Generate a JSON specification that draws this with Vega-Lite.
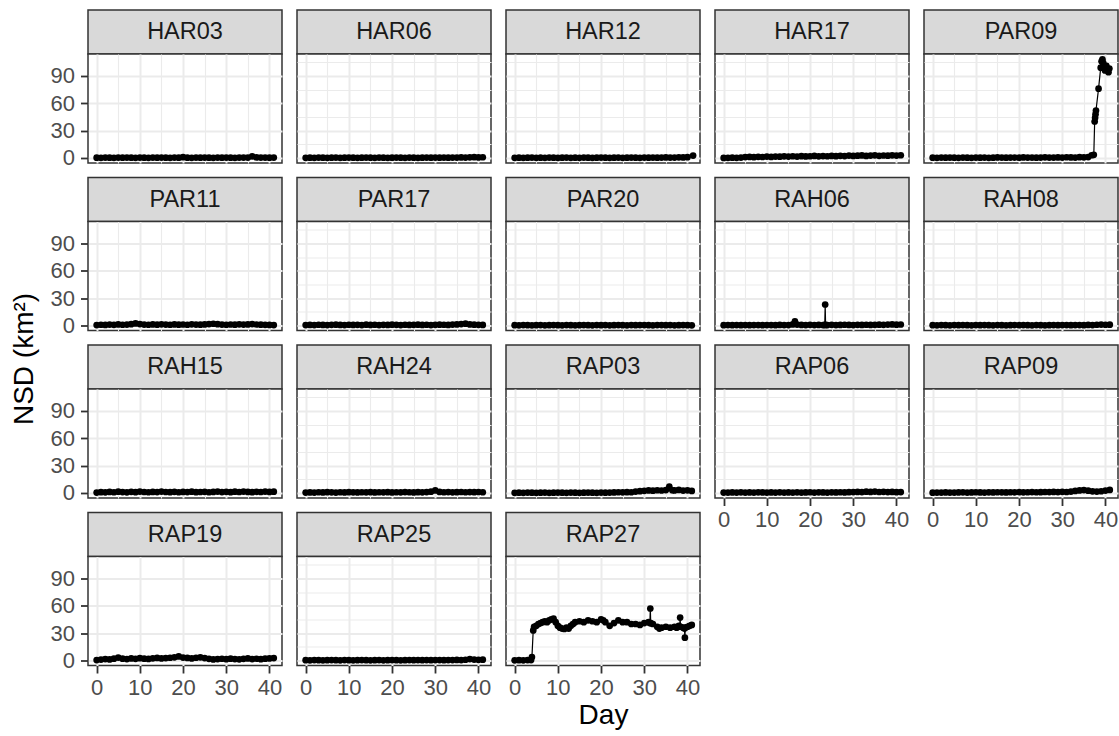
{
"$schema":"https://vega.github.io/schema/vega-lite/v6.json",
"padding":{"left":0,"top":9,"right":0,"bottom":0},
"background":"white",
"datasets":{
"HAR03":[{"day":0,"nsd":0.3},{"day":1,"nsd":0.2},{"day":2,"nsd":0.4},{"day":3,"nsd":0.3},{"day":4,"nsd":0.2},{"day":5,"nsd":0.4},{"day":6,"nsd":0.3},{"day":7,"nsd":0.5},{"day":8,"nsd":0.3},{"day":9,"nsd":0.2},{"day":10,"nsd":0.4},{"day":11,"nsd":0.3},{"day":12,"nsd":0.2},{"day":13,"nsd":0.4},{"day":14,"nsd":0.3},{"day":15,"nsd":0.5},{"day":16,"nsd":0.3},{"day":17,"nsd":0.2},{"day":18,"nsd":0.4},{"day":19,"nsd":0.3},{"day":20,"nsd":0.9},{"day":21,"nsd":0.3},{"day":22,"nsd":0.2},{"day":23,"nsd":0.4},{"day":24,"nsd":0.3},{"day":25,"nsd":0.5},{"day":26,"nsd":0.3},{"day":27,"nsd":0.2},{"day":28,"nsd":0.4},{"day":29,"nsd":0.3},{"day":30,"nsd":0.5},{"day":31,"nsd":0.3},{"day":32,"nsd":0.2},{"day":33,"nsd":0.4},{"day":34,"nsd":0.5},{"day":35,"nsd":0.4},{"day":36,"nsd":1.8},{"day":37,"nsd":0.6},{"day":38,"nsd":0.4},{"day":39,"nsd":0.5},{"day":40,"nsd":0.3},{"day":41,"nsd":0.4}],
"HAR06":[{"day":0,"nsd":0.2},{"day":1,"nsd":0.3},{"day":2,"nsd":0.2},{"day":3,"nsd":0.4},{"day":4,"nsd":0.3},{"day":5,"nsd":0.2},{"day":6,"nsd":0.3},{"day":7,"nsd":0.4},{"day":8,"nsd":0.2},{"day":9,"nsd":0.3},{"day":10,"nsd":0.5},{"day":11,"nsd":0.3},{"day":12,"nsd":0.2},{"day":13,"nsd":0.3},{"day":14,"nsd":0.4},{"day":15,"nsd":0.3},{"day":16,"nsd":0.2},{"day":17,"nsd":0.4},{"day":18,"nsd":0.3},{"day":19,"nsd":0.2},{"day":20,"nsd":0.3},{"day":21,"nsd":0.5},{"day":22,"nsd":0.3},{"day":23,"nsd":0.2},{"day":24,"nsd":0.4},{"day":25,"nsd":0.3},{"day":26,"nsd":0.2},{"day":27,"nsd":0.3},{"day":28,"nsd":0.4},{"day":29,"nsd":0.3},{"day":30,"nsd":0.5},{"day":31,"nsd":0.3},{"day":32,"nsd":0.4},{"day":33,"nsd":0.3},{"day":34,"nsd":0.5},{"day":35,"nsd":0.4},{"day":36,"nsd":0.6},{"day":37,"nsd":0.5},{"day":38,"nsd":0.7},{"day":39,"nsd":0.9},{"day":40,"nsd":0.6},{"day":41,"nsd":0.8}],
"HAR12":[{"day":0,"nsd":0.2},{"day":1,"nsd":0.3},{"day":2,"nsd":0.2},{"day":3,"nsd":0.3},{"day":4,"nsd":0.4},{"day":5,"nsd":0.2},{"day":6,"nsd":0.3},{"day":7,"nsd":0.2},{"day":8,"nsd":0.4},{"day":9,"nsd":0.3},{"day":10,"nsd":0.2},{"day":11,"nsd":0.3},{"day":12,"nsd":0.4},{"day":13,"nsd":0.2},{"day":14,"nsd":0.3},{"day":15,"nsd":0.2},{"day":16,"nsd":0.4},{"day":17,"nsd":0.3},{"day":18,"nsd":0.2},{"day":19,"nsd":0.3},{"day":20,"nsd":0.5},{"day":21,"nsd":0.3},{"day":22,"nsd":0.2},{"day":23,"nsd":0.3},{"day":24,"nsd":0.4},{"day":25,"nsd":0.2},{"day":26,"nsd":0.3},{"day":27,"nsd":0.4},{"day":28,"nsd":0.3},{"day":29,"nsd":0.2},{"day":30,"nsd":0.4},{"day":31,"nsd":0.3},{"day":32,"nsd":0.5},{"day":33,"nsd":0.3},{"day":34,"nsd":0.4},{"day":35,"nsd":0.6},{"day":36,"nsd":0.4},{"day":37,"nsd":0.5},{"day":38,"nsd":0.7},{"day":39,"nsd":0.6},{"day":40,"nsd":0.9},{"day":41.3,"nsd":2.6}],
"HAR17":[{"day":0,"nsd":0.1},{"day":1,"nsd":0.2},{"day":2,"nsd":0.3},{"day":3,"nsd":0.2},{"day":4,"nsd":0.5},{"day":5,"nsd":1.0},{"day":6,"nsd":1.2},{"day":7,"nsd":0.9},{"day":8,"nsd":1.3},{"day":9,"nsd":1.1},{"day":10,"nsd":1.5},{"day":11,"nsd":1.2},{"day":12,"nsd":1.6},{"day":13,"nsd":1.4},{"day":14,"nsd":1.8},{"day":15,"nsd":1.5},{"day":16,"nsd":1.9},{"day":17,"nsd":1.6},{"day":18,"nsd":2.0},{"day":19,"nsd":1.7},{"day":20,"nsd":1.9},{"day":21,"nsd":2.2},{"day":22,"nsd":1.8},{"day":23,"nsd":2.1},{"day":24,"nsd":1.9},{"day":25,"nsd":2.3},{"day":26,"nsd":2.0},{"day":27,"nsd":2.4},{"day":28,"nsd":2.1},{"day":29,"nsd":2.6},{"day":30,"nsd":2.2},{"day":31,"nsd":2.5},{"day":32,"nsd":2.8},{"day":33,"nsd":2.3},{"day":34,"nsd":2.6},{"day":35,"nsd":2.9},{"day":36,"nsd":2.4},{"day":37,"nsd":2.7},{"day":38,"nsd":2.5},{"day":39,"nsd":2.9},{"day":40,"nsd":2.6},{"day":41,"nsd":3.0}],
"PAR09":[{"day":0,"nsd":0.3},{"day":1,"nsd":0.2},{"day":2,"nsd":0.4},{"day":3,"nsd":0.3},{"day":4,"nsd":0.5},{"day":5,"nsd":0.3},{"day":6,"nsd":0.2},{"day":7,"nsd":0.4},{"day":8,"nsd":0.3},{"day":9,"nsd":0.2},{"day":10,"nsd":0.5},{"day":11,"nsd":0.3},{"day":12,"nsd":0.4},{"day":13,"nsd":0.2},{"day":14,"nsd":0.3},{"day":15,"nsd":0.6},{"day":16,"nsd":0.4},{"day":17,"nsd":0.3},{"day":18,"nsd":0.5},{"day":19,"nsd":0.4},{"day":20,"nsd":0.3},{"day":21,"nsd":0.6},{"day":22,"nsd":0.4},{"day":23,"nsd":0.5},{"day":24,"nsd":0.3},{"day":25,"nsd":0.4},{"day":26,"nsd":0.7},{"day":27,"nsd":0.5},{"day":28,"nsd":0.4},{"day":29,"nsd":0.6},{"day":30,"nsd":0.5},{"day":31,"nsd":0.8},{"day":32,"nsd":0.6},{"day":33,"nsd":0.5},{"day":34,"nsd":0.9},{"day":35,"nsd":0.7},{"day":36,"nsd":1.0},{"day":36.8,"nsd":3.0},{"day":37.3,"nsd":3.5},{"day":37.5,"nsd":40},{"day":37.6,"nsd":44},{"day":37.7,"nsd":48},{"day":37.8,"nsd":52},{"day":38.4,"nsd":76},{"day":38.9,"nsd":99},{"day":39.1,"nsd":106},{"day":39.3,"nsd":108},{"day":39.5,"nsd":104},{"day":39.7,"nsd":100},{"day":39.9,"nsd":96},{"day":40.2,"nsd":101},{"day":40.5,"nsd":97},{"day":40.7,"nsd":94},{"day":40.9,"nsd":98}],
"PAR11":[{"day":0,"nsd":0.5},{"day":1,"nsd":0.8},{"day":2,"nsd":0.6},{"day":3,"nsd":1.0},{"day":4,"nsd":0.7},{"day":5,"nsd":1.2},{"day":6,"nsd":0.8},{"day":7,"nsd":1.0},{"day":8,"nsd":1.4},{"day":9,"nsd":2.2},{"day":10,"nsd":1.5},{"day":11,"nsd":1.0},{"day":12,"nsd":0.8},{"day":13,"nsd":1.2},{"day":14,"nsd":0.9},{"day":15,"nsd":1.3},{"day":16,"nsd":1.0},{"day":17,"nsd":0.8},{"day":18,"nsd":1.2},{"day":19,"nsd":0.9},{"day":20,"nsd":1.1},{"day":21,"nsd":0.8},{"day":22,"nsd":1.3},{"day":23,"nsd":1.0},{"day":24,"nsd":0.9},{"day":25,"nsd":1.2},{"day":26,"nsd":1.5},{"day":27,"nsd":1.9},{"day":28,"nsd":1.4},{"day":29,"nsd":1.0},{"day":30,"nsd":0.8},{"day":31,"nsd":1.1},{"day":32,"nsd":0.9},{"day":33,"nsd":1.3},{"day":34,"nsd":1.0},{"day":35,"nsd":1.2},{"day":36,"nsd":1.5},{"day":37,"nsd":1.1},{"day":38,"nsd":0.9},{"day":39,"nsd":0.7},{"day":40,"nsd":0.6},{"day":41,"nsd":0.5}],
"PAR17":[{"day":0,"nsd":0.4},{"day":1,"nsd":0.6},{"day":2,"nsd":0.5},{"day":3,"nsd":0.8},{"day":4,"nsd":0.6},{"day":5,"nsd":0.5},{"day":6,"nsd":0.7},{"day":7,"nsd":0.9},{"day":8,"nsd":0.6},{"day":9,"nsd":0.5},{"day":10,"nsd":0.8},{"day":11,"nsd":0.6},{"day":12,"nsd":0.7},{"day":13,"nsd":0.5},{"day":14,"nsd":0.9},{"day":15,"nsd":0.6},{"day":16,"nsd":0.8},{"day":17,"nsd":0.5},{"day":18,"nsd":0.7},{"day":19,"nsd":0.6},{"day":20,"nsd":0.9},{"day":21,"nsd":0.7},{"day":22,"nsd":0.5},{"day":23,"nsd":0.8},{"day":24,"nsd":0.6},{"day":25,"nsd":0.7},{"day":26,"nsd":0.9},{"day":27,"nsd":0.6},{"day":28,"nsd":0.8},{"day":29,"nsd":0.5},{"day":30,"nsd":0.7},{"day":31,"nsd":0.9},{"day":32,"nsd":0.8},{"day":33,"nsd":0.6},{"day":34,"nsd":1.0},{"day":35,"nsd":1.2},{"day":36,"nsd":1.5},{"day":37,"nsd":2.0},{"day":38,"nsd":1.2},{"day":39,"nsd":0.9},{"day":40,"nsd":0.7},{"day":41,"nsd":0.6}],
"PAR20":[{"day":0,"nsd":0.3},{"day":1,"nsd":0.2},{"day":2,"nsd":0.4},{"day":3,"nsd":0.3},{"day":4,"nsd":0.2},{"day":5,"nsd":0.3},{"day":6,"nsd":0.4},{"day":7,"nsd":0.2},{"day":8,"nsd":0.3},{"day":9,"nsd":0.5},{"day":10,"nsd":0.3},{"day":11,"nsd":0.2},{"day":12,"nsd":0.4},{"day":13,"nsd":0.3},{"day":14,"nsd":0.2},{"day":15,"nsd":0.3},{"day":16,"nsd":0.4},{"day":17,"nsd":0.3},{"day":18,"nsd":0.2},{"day":19,"nsd":0.5},{"day":20,"nsd":0.3},{"day":21,"nsd":0.4},{"day":22,"nsd":0.2},{"day":23,"nsd":0.3},{"day":24,"nsd":0.5},{"day":25,"nsd":0.3},{"day":26,"nsd":0.2},{"day":27,"nsd":0.4},{"day":28,"nsd":0.3},{"day":29,"nsd":0.5},{"day":30,"nsd":0.4},{"day":31,"nsd":0.3},{"day":32,"nsd":0.2},{"day":33,"nsd":0.4},{"day":34,"nsd":0.5},{"day":35,"nsd":0.3},{"day":36,"nsd":0.4},{"day":37,"nsd":0.2},{"day":38,"nsd":0.3},{"day":39,"nsd":0.4},{"day":40,"nsd":0.3},{"day":41,"nsd":0.2}],
"RAH06":[{"day":0,"nsd":0.3},{"day":1,"nsd":0.4},{"day":2,"nsd":0.3},{"day":3,"nsd":0.5},{"day":4,"nsd":0.3},{"day":5,"nsd":0.4},{"day":6,"nsd":0.3},{"day":7,"nsd":0.5},{"day":8,"nsd":0.4},{"day":9,"nsd":0.3},{"day":10,"nsd":0.5},{"day":11,"nsd":0.4},{"day":12,"nsd":0.3},{"day":13,"nsd":0.6},{"day":14,"nsd":0.4},{"day":15,"nsd":0.5},{"day":16,"nsd":1.2},{"day":16.5,"nsd":4.5},{"day":17,"nsd":1.0},{"day":18,"nsd":0.6},{"day":19,"nsd":0.5},{"day":20,"nsd":0.7},{"day":21,"nsd":0.5},{"day":22,"nsd":0.6},{"day":23,"nsd":0.5},{"day":23.4,"nsd":0.6},{"day":23.5,"nsd":23},{"day":23.6,"nsd":0.6},{"day":24,"nsd":0.5},{"day":25,"nsd":0.7},{"day":26,"nsd":0.5},{"day":27,"nsd":0.6},{"day":28,"nsd":0.8},{"day":29,"nsd":0.6},{"day":30,"nsd":0.5},{"day":31,"nsd":0.7},{"day":32,"nsd":0.6},{"day":33,"nsd":0.8},{"day":34,"nsd":0.6},{"day":35,"nsd":0.7},{"day":36,"nsd":0.9},{"day":37,"nsd":0.7},{"day":38,"nsd":1.0},{"day":39,"nsd":1.2},{"day":40,"nsd":0.9},{"day":41,"nsd":1.1}],
"RAH08":[{"day":0,"nsd":0.3},{"day":1,"nsd":0.2},{"day":2,"nsd":0.4},{"day":3,"nsd":0.3},{"day":4,"nsd":0.2},{"day":5,"nsd":0.4},{"day":6,"nsd":0.3},{"day":7,"nsd":0.5},{"day":8,"nsd":0.3},{"day":9,"nsd":0.2},{"day":10,"nsd":0.4},{"day":11,"nsd":0.3},{"day":12,"nsd":0.5},{"day":13,"nsd":0.3},{"day":14,"nsd":0.2},{"day":15,"nsd":0.4},{"day":16,"nsd":0.3},{"day":17,"nsd":0.2},{"day":18,"nsd":0.3},{"day":19,"nsd":0.4},{"day":20,"nsd":0.3},{"day":21,"nsd":0.5},{"day":22,"nsd":0.3},{"day":23,"nsd":0.2},{"day":24,"nsd":0.4},{"day":25,"nsd":0.3},{"day":26,"nsd":0.2},{"day":27,"nsd":0.3},{"day":28,"nsd":0.4},{"day":29,"nsd":0.3},{"day":30,"nsd":0.5},{"day":31,"nsd":0.4},{"day":32,"nsd":0.3},{"day":33,"nsd":0.4},{"day":34,"nsd":0.5},{"day":35,"nsd":0.3},{"day":36,"nsd":0.6},{"day":37,"nsd":0.5},{"day":38,"nsd":0.8},{"day":39,"nsd":1.0},{"day":40,"nsd":0.8},{"day":41,"nsd":0.9}],
"RAH15":[{"day":0,"nsd":0.5},{"day":1,"nsd":0.9},{"day":2,"nsd":0.7},{"day":3,"nsd":1.2},{"day":4,"nsd":0.8},{"day":5,"nsd":1.4},{"day":6,"nsd":1.0},{"day":7,"nsd":0.7},{"day":8,"nsd":1.3},{"day":9,"nsd":0.9},{"day":10,"nsd":1.5},{"day":11,"nsd":1.1},{"day":12,"nsd":0.8},{"day":13,"nsd":1.2},{"day":14,"nsd":1.0},{"day":15,"nsd":1.6},{"day":16,"nsd":1.1},{"day":17,"nsd":0.9},{"day":18,"nsd":1.3},{"day":19,"nsd":0.8},{"day":20,"nsd":1.2},{"day":21,"nsd":1.0},{"day":22,"nsd":1.4},{"day":23,"nsd":0.9},{"day":24,"nsd":1.1},{"day":25,"nsd":1.3},{"day":26,"nsd":0.8},{"day":27,"nsd":1.2},{"day":28,"nsd":1.5},{"day":29,"nsd":1.0},{"day":30,"nsd":1.3},{"day":31,"nsd":0.9},{"day":32,"nsd":1.4},{"day":33,"nsd":1.1},{"day":34,"nsd":1.6},{"day":35,"nsd":1.2},{"day":36,"nsd":0.9},{"day":37,"nsd":1.3},{"day":38,"nsd":1.1},{"day":39,"nsd":1.5},{"day":40,"nsd":1.2},{"day":41,"nsd":1.4}],
"RAH24":[{"day":0,"nsd":0.4},{"day":1,"nsd":0.6},{"day":2,"nsd":0.5},{"day":3,"nsd":0.8},{"day":4,"nsd":0.6},{"day":5,"nsd":0.9},{"day":6,"nsd":0.7},{"day":7,"nsd":0.5},{"day":8,"nsd":0.8},{"day":9,"nsd":0.6},{"day":10,"nsd":0.9},{"day":11,"nsd":0.7},{"day":12,"nsd":0.6},{"day":13,"nsd":0.8},{"day":14,"nsd":0.7},{"day":15,"nsd":0.9},{"day":16,"nsd":0.6},{"day":17,"nsd":0.8},{"day":18,"nsd":0.7},{"day":19,"nsd":0.9},{"day":20,"nsd":0.6},{"day":21,"nsd":0.8},{"day":22,"nsd":0.7},{"day":23,"nsd":1.0},{"day":24,"nsd":0.8},{"day":25,"nsd":0.6},{"day":26,"nsd":0.9},{"day":27,"nsd":0.7},{"day":28,"nsd":1.0},{"day":29,"nsd":1.4},{"day":30,"nsd":2.8},{"day":31,"nsd":1.2},{"day":32,"nsd":0.8},{"day":33,"nsd":1.0},{"day":34,"nsd":0.7},{"day":35,"nsd":0.9},{"day":36,"nsd":1.1},{"day":37,"nsd":0.8},{"day":38,"nsd":1.0},{"day":39,"nsd":0.9},{"day":40,"nsd":1.1},{"day":41,"nsd":0.8}],
"RAP03":[{"day":0,"nsd":0.2},{"day":1,"nsd":0.3},{"day":2,"nsd":0.2},{"day":3,"nsd":0.4},{"day":4,"nsd":0.3},{"day":5,"nsd":0.2},{"day":6,"nsd":0.3},{"day":7,"nsd":0.4},{"day":8,"nsd":0.2},{"day":9,"nsd":0.3},{"day":10,"nsd":0.4},{"day":11,"nsd":0.3},{"day":12,"nsd":0.2},{"day":13,"nsd":0.4},{"day":14,"nsd":0.3},{"day":15,"nsd":0.2},{"day":16,"nsd":0.3},{"day":17,"nsd":0.4},{"day":18,"nsd":0.3},{"day":19,"nsd":0.2},{"day":20,"nsd":0.4},{"day":21,"nsd":0.3},{"day":22,"nsd":0.5},{"day":23,"nsd":0.6},{"day":24,"nsd":0.8},{"day":25,"nsd":0.7},{"day":26,"nsd":0.9},{"day":27,"nsd":0.8},{"day":28,"nsd":1.5},{"day":29,"nsd":2.0},{"day":30,"nsd":2.4},{"day":31,"nsd":2.8},{"day":32,"nsd":2.5},{"day":33,"nsd":3.0},{"day":34,"nsd":2.7},{"day":35,"nsd":3.2},{"day":35.8,"nsd":7.0},{"day":36.5,"nsd":3.0},{"day":37,"nsd":2.8},{"day":38,"nsd":3.4},{"day":39,"nsd":2.6},{"day":40,"nsd":2.9},{"day":41,"nsd":2.2}],
"RAP06":[{"day":0,"nsd":0.5},{"day":1,"nsd":0.4},{"day":2,"nsd":0.6},{"day":3,"nsd":0.5},{"day":4,"nsd":0.7},{"day":5,"nsd":0.4},{"day":6,"nsd":0.6},{"day":7,"nsd":0.5},{"day":8,"nsd":0.7},{"day":9,"nsd":0.6},{"day":10,"nsd":0.4},{"day":11,"nsd":0.6},{"day":12,"nsd":0.5},{"day":13,"nsd":0.7},{"day":14,"nsd":0.5},{"day":15,"nsd":0.6},{"day":16,"nsd":0.4},{"day":17,"nsd":0.7},{"day":18,"nsd":0.5},{"day":19,"nsd":0.6},{"day":20,"nsd":0.8},{"day":21,"nsd":0.5},{"day":22,"nsd":0.7},{"day":23,"nsd":0.6},{"day":24,"nsd":0.5},{"day":25,"nsd":0.7},{"day":26,"nsd":0.6},{"day":27,"nsd":0.8},{"day":28,"nsd":0.6},{"day":29,"nsd":0.9},{"day":30,"nsd":1.0},{"day":31,"nsd":1.2},{"day":32,"nsd":1.0},{"day":33,"nsd":1.4},{"day":34,"nsd":1.2},{"day":35,"nsd":1.5},{"day":36,"nsd":1.1},{"day":37,"nsd":1.3},{"day":38,"nsd":1.0},{"day":39,"nsd":1.2},{"day":40,"nsd":0.9},{"day":41,"nsd":1.0}],
"RAP09":[{"day":0,"nsd":0.3},{"day":1,"nsd":0.5},{"day":2,"nsd":0.4},{"day":3,"nsd":0.6},{"day":4,"nsd":0.5},{"day":5,"nsd":0.4},{"day":6,"nsd":0.6},{"day":7,"nsd":0.7},{"day":8,"nsd":0.5},{"day":9,"nsd":0.6},{"day":10,"nsd":0.8},{"day":11,"nsd":0.6},{"day":12,"nsd":0.5},{"day":13,"nsd":0.7},{"day":14,"nsd":0.6},{"day":15,"nsd":0.8},{"day":16,"nsd":0.7},{"day":17,"nsd":0.6},{"day":18,"nsd":0.8},{"day":19,"nsd":0.7},{"day":20,"nsd":0.9},{"day":21,"nsd":0.7},{"day":22,"nsd":0.8},{"day":23,"nsd":1.0},{"day":24,"nsd":0.8},{"day":25,"nsd":0.9},{"day":26,"nsd":1.1},{"day":27,"nsd":1.0},{"day":28,"nsd":1.2},{"day":29,"nsd":1.0},{"day":30,"nsd":1.3},{"day":31,"nsd":1.1},{"day":32,"nsd":1.5},{"day":33,"nsd":2.2},{"day":34,"nsd":2.8},{"day":35,"nsd":3.2},{"day":36,"nsd":2.5},{"day":37,"nsd":1.8},{"day":38,"nsd":1.6},{"day":39,"nsd":1.9},{"day":40,"nsd":2.6},{"day":41,"nsd":3.4}],
"RAP19":[{"day":0,"nsd":0.5},{"day":1,"nsd":1.0},{"day":2,"nsd":1.5},{"day":3,"nsd":1.2},{"day":4,"nsd":2.0},{"day":5,"nsd":3.2},{"day":6,"nsd":2.0},{"day":7,"nsd":1.5},{"day":8,"nsd":2.2},{"day":9,"nsd":1.8},{"day":10,"nsd":2.5},{"day":11,"nsd":2.0},{"day":12,"nsd":1.7},{"day":13,"nsd":2.4},{"day":14,"nsd":2.8},{"day":15,"nsd":2.2},{"day":16,"nsd":2.6},{"day":17,"nsd":3.0},{"day":18,"nsd":3.5},{"day":19,"nsd":4.5},{"day":20,"nsd":3.2},{"day":21,"nsd":2.8},{"day":22,"nsd":2.2},{"day":23,"nsd":3.0},{"day":24,"nsd":3.5},{"day":25,"nsd":2.6},{"day":26,"nsd":1.8},{"day":27,"nsd":1.2},{"day":28,"nsd":1.5},{"day":29,"nsd":1.9},{"day":30,"nsd":1.4},{"day":31,"nsd":2.0},{"day":32,"nsd":1.6},{"day":33,"nsd":1.3},{"day":34,"nsd":1.8},{"day":35,"nsd":2.2},{"day":36,"nsd":1.5},{"day":37,"nsd":1.9},{"day":38,"nsd":1.4},{"day":39,"nsd":2.0},{"day":40,"nsd":2.3},{"day":41,"nsd":2.6}],
"RAP25":[{"day":0,"nsd":0.3},{"day":1,"nsd":0.2},{"day":2,"nsd":0.4},{"day":3,"nsd":0.3},{"day":4,"nsd":0.2},{"day":5,"nsd":0.3},{"day":6,"nsd":0.4},{"day":7,"nsd":0.3},{"day":8,"nsd":0.2},{"day":9,"nsd":0.4},{"day":10,"nsd":0.3},{"day":11,"nsd":0.2},{"day":12,"nsd":0.3},{"day":13,"nsd":0.4},{"day":14,"nsd":0.3},{"day":15,"nsd":0.2},{"day":16,"nsd":0.3},{"day":17,"nsd":0.4},{"day":18,"nsd":0.2},{"day":19,"nsd":0.3},{"day":20,"nsd":0.4},{"day":21,"nsd":0.3},{"day":22,"nsd":0.2},{"day":23,"nsd":0.3},{"day":24,"nsd":0.4},{"day":25,"nsd":0.3},{"day":26,"nsd":0.5},{"day":27,"nsd":0.3},{"day":28,"nsd":0.4},{"day":29,"nsd":0.3},{"day":30,"nsd":0.5},{"day":31,"nsd":0.4},{"day":32,"nsd":0.3},{"day":33,"nsd":0.5},{"day":34,"nsd":0.4},{"day":35,"nsd":0.6},{"day":36,"nsd":0.5},{"day":37,"nsd":0.8},{"day":38,"nsd":1.5},{"day":39,"nsd":1.0},{"day":40,"nsd":0.7},{"day":41,"nsd":0.9}],
"RAP27":[{"day":0,"nsd":0.2},{"day":1,"nsd":0.3},{"day":2,"nsd":0.2},{"day":3,"nsd":0.4},{"day":3.8,"nsd":0.5},{"day":4.0,"nsd":3.7},{"day":4.3,"nsd":33},{"day":4.5,"nsd":37},{"day":5,"nsd":38},{"day":5.5,"nsd":40},{"day":6,"nsd":41},{"day":6.5,"nsd":42},{"day":7,"nsd":43},{"day":7.5,"nsd":42},{"day":8,"nsd":44},{"day":8.5,"nsd":45},{"day":9,"nsd":46},{"day":9.5,"nsd":42},{"day":10,"nsd":38},{"day":10.5,"nsd":36},{"day":11,"nsd":35},{"day":11.5,"nsd":34.5},{"day":12,"nsd":36},{"day":12.5,"nsd":35},{"day":13,"nsd":38},{"day":13.5,"nsd":40},{"day":14,"nsd":42},{"day":15,"nsd":43},{"day":16,"nsd":42},{"day":17,"nsd":44},{"day":18,"nsd":43},{"day":19,"nsd":42},{"day":20,"nsd":45},{"day":20.5,"nsd":44},{"day":21,"nsd":42},{"day":22,"nsd":38},{"day":23,"nsd":41},{"day":24,"nsd":44},{"day":25,"nsd":42},{"day":26,"nsd":42},{"day":27,"nsd":40},{"day":28,"nsd":40},{"day":29,"nsd":39},{"day":30,"nsd":41},{"day":31,"nsd":42},{"day":31.3,"nsd":41},{"day":31.4,"nsd":57},{"day":31.5,"nsd":41},{"day":32,"nsd":40},{"day":33,"nsd":37},{"day":33.5,"nsd":35},{"day":34,"nsd":36},{"day":35,"nsd":37},{"day":36,"nsd":36},{"day":37,"nsd":37},{"day":37.5,"nsd":36},{"day":38,"nsd":38},{"day":38.2,"nsd":37},{"day":38.3,"nsd":47},{"day":38.4,"nsd":37},{"day":39,"nsd":36},{"day":39.3,"nsd":35},{"day":39.4,"nsd":25},{"day":39.5,"nsd":36},{"day":40,"nsd":37},{"day":40.5,"nsd":38},{"day":41,"nsd":39}]
},
"spacing":0,
"hconcat":[
{"width":49,"height":698,"view":{"stroke":null},"data":{"values":[{"t":"NSD (km²)"}]},"mark":{"type":"text","angle":270,"fontSize":28,"color":"#000000"},"encoding":{"text":{"field":"t"}}},
{"spacing":13,"hconcat":[
{"spacing":6.5,"vconcat":[
{"spacing":0,"bounds":"flush","vconcat":[
{"width":194,"height":44,"view":{"fill":"#d9d9d9","stroke":"#333333","strokeWidth":1.5},"data":{"values":[{"id":"HAR03"}]},"mark":{"type":"text","fontSize":23.5,"color":"#1a1a1a"},"encoding":{"text":{"field":"id"}}},
{"width":194,"height":109,"view":{"fill":"#ffffff","stroke":"#333333","strokeWidth":1.5},"data":{"name":"HAR03"},
"encoding":{"x":{"field":"day","type":"quantitative","scale":{"domain":[-2,42.9],"nice":false,"zero":false},"axis":{"values":[0,5,10,15,20,25,30,35,40],"labels":false,"ticks":false,"title":null,"minExtent":0,"maxExtent":0,"gridWidth":{"condition":{"test":"datum.value % 10 === 0","value":2},"value":1.1}}}},
"resolve":{"axis":{"y":"independent"}},
"layer":[{"mark":{"type":"line","color":"#000000","strokeWidth":1.2},"encoding":{"y":{"field":"nsd","type":"quantitative","scale":{"domain":[-5.5,114],"nice":false,"zero":false},"axis":{"values":[0,30,60,90],"title":null,"gridWidth":2}}}},{"mark":{"type":"point","filled":true,"color":"#000000","size":45,"opacity":1},"encoding":{"y":{"field":"nsd","type":"quantitative","axis":{"values":[15,45,75,105],"orient":"right","labels":false,"ticks":false,"title":null,"minExtent":0,"maxExtent":0,"gridWidth":1.1}}}}]}
]},
{"spacing":0,"bounds":"flush","vconcat":[
{"width":194,"height":44,"view":{"fill":"#d9d9d9","stroke":"#333333","strokeWidth":1.5},"data":{"values":[{"id":"PAR11"}]},"mark":{"type":"text","fontSize":23.5,"color":"#1a1a1a"},"encoding":{"text":{"field":"id"}}},
{"width":194,"height":109,"view":{"fill":"#ffffff","stroke":"#333333","strokeWidth":1.5},"data":{"name":"PAR11"},
"encoding":{"x":{"field":"day","type":"quantitative","scale":{"domain":[-2,42.9],"nice":false,"zero":false},"axis":{"values":[0,5,10,15,20,25,30,35,40],"labels":false,"ticks":false,"title":null,"minExtent":0,"maxExtent":0,"gridWidth":{"condition":{"test":"datum.value % 10 === 0","value":2},"value":1.1}}}},
"resolve":{"axis":{"y":"independent"}},
"layer":[{"mark":{"type":"line","color":"#000000","strokeWidth":1.2},"encoding":{"y":{"field":"nsd","type":"quantitative","scale":{"domain":[-5.5,114],"nice":false,"zero":false},"axis":{"values":[0,30,60,90],"title":null,"gridWidth":2}}}},{"mark":{"type":"point","filled":true,"color":"#000000","size":45,"opacity":1},"encoding":{"y":{"field":"nsd","type":"quantitative","axis":{"values":[15,45,75,105],"orient":"right","labels":false,"ticks":false,"title":null,"minExtent":0,"maxExtent":0,"gridWidth":1.1}}}}]}
]},
{"spacing":0,"bounds":"flush","vconcat":[
{"width":194,"height":44,"view":{"fill":"#d9d9d9","stroke":"#333333","strokeWidth":1.5},"data":{"values":[{"id":"RAH15"}]},"mark":{"type":"text","fontSize":23.5,"color":"#1a1a1a"},"encoding":{"text":{"field":"id"}}},
{"width":194,"height":109,"view":{"fill":"#ffffff","stroke":"#333333","strokeWidth":1.5},"data":{"name":"RAH15"},
"encoding":{"x":{"field":"day","type":"quantitative","scale":{"domain":[-2,42.9],"nice":false,"zero":false},"axis":{"values":[0,5,10,15,20,25,30,35,40],"labels":false,"ticks":false,"title":null,"minExtent":0,"maxExtent":0,"gridWidth":{"condition":{"test":"datum.value % 10 === 0","value":2},"value":1.1}}}},
"resolve":{"axis":{"y":"independent"}},
"layer":[{"mark":{"type":"line","color":"#000000","strokeWidth":1.2},"encoding":{"y":{"field":"nsd","type":"quantitative","scale":{"domain":[-5.5,114],"nice":false,"zero":false},"axis":{"values":[0,30,60,90],"title":null,"gridWidth":2}}}},{"mark":{"type":"point","filled":true,"color":"#000000","size":45,"opacity":1},"encoding":{"y":{"field":"nsd","type":"quantitative","axis":{"values":[15,45,75,105],"orient":"right","labels":false,"ticks":false,"title":null,"minExtent":0,"maxExtent":0,"gridWidth":1.1}}}}]}
]},
{"spacing":0,"bounds":"flush","vconcat":[
{"width":194,"height":44,"view":{"fill":"#d9d9d9","stroke":"#333333","strokeWidth":1.5},"data":{"values":[{"id":"RAP19"}]},"mark":{"type":"text","fontSize":23.5,"color":"#1a1a1a"},"encoding":{"text":{"field":"id"}}},
{"width":194,"height":109,"view":{"fill":"#ffffff","stroke":"#333333","strokeWidth":1.5},"data":{"name":"RAP19"},
"resolve":{"axis":{"x":"independent","y":"independent"}},
"layer":[{"mark":{"type":"line","color":"#000000","strokeWidth":1.2},"encoding":{"x":{"field":"day","type":"quantitative","scale":{"domain":[-2,42.9],"nice":false,"zero":false},"axis":{"values":[0,10,20,30,40],"title":null,"gridWidth":2}},"y":{"field":"nsd","type":"quantitative","scale":{"domain":[-5.5,114],"nice":false,"zero":false},"axis":{"values":[0,30,60,90],"title":null,"gridWidth":2}}}},{"mark":{"type":"point","filled":true,"color":"#000000","size":45,"opacity":1},"encoding":{"x":{"field":"day","type":"quantitative","axis":{"values":[5,15,25,35],"orient":"top","labels":false,"ticks":false,"title":null,"minExtent":0,"maxExtent":0,"gridWidth":1.1}},"y":{"field":"nsd","type":"quantitative","axis":{"values":[15,45,75,105],"orient":"right","labels":false,"ticks":false,"title":null,"minExtent":0,"maxExtent":0,"gridWidth":1.1}}}}]}
]}
]},
{"spacing":12.5,"vconcat":[
{"spacing":0,"bounds":"flush","vconcat":[
{"width":194,"height":44,"view":{"fill":"#d9d9d9","stroke":"#333333","strokeWidth":1.5},"data":{"values":[{"id":"HAR06"}]},"mark":{"type":"text","fontSize":23.5,"color":"#1a1a1a"},"encoding":{"text":{"field":"id"}}},
{"width":194,"height":109,"view":{"fill":"#ffffff","stroke":"#333333","strokeWidth":1.5},"data":{"name":"HAR06"},
"encoding":{"x":{"field":"day","type":"quantitative","scale":{"domain":[-2,42.9],"nice":false,"zero":false},"axis":{"values":[0,5,10,15,20,25,30,35,40],"labels":false,"ticks":false,"title":null,"minExtent":0,"maxExtent":0,"gridWidth":{"condition":{"test":"datum.value % 10 === 0","value":2},"value":1.1}}},
"y":{"field":"nsd","type":"quantitative","scale":{"domain":[-5.5,114],"nice":false,"zero":false},"axis":{"values":[0,15,30,45,60,75,90,105],"labels":false,"ticks":false,"title":null,"minExtent":0,"maxExtent":0,"gridWidth":{"condition":{"test":"datum.value % 30 === 0","value":2},"value":1.1}}}},
"layer":[{"mark":{"type":"line","color":"#000000","strokeWidth":1.2}},{"mark":{"type":"point","filled":true,"color":"#000000","size":45,"opacity":1}}]}
]},
{"spacing":0,"bounds":"flush","vconcat":[
{"width":194,"height":44,"view":{"fill":"#d9d9d9","stroke":"#333333","strokeWidth":1.5},"data":{"values":[{"id":"PAR17"}]},"mark":{"type":"text","fontSize":23.5,"color":"#1a1a1a"},"encoding":{"text":{"field":"id"}}},
{"width":194,"height":109,"view":{"fill":"#ffffff","stroke":"#333333","strokeWidth":1.5},"data":{"name":"PAR17"},
"encoding":{"x":{"field":"day","type":"quantitative","scale":{"domain":[-2,42.9],"nice":false,"zero":false},"axis":{"values":[0,5,10,15,20,25,30,35,40],"labels":false,"ticks":false,"title":null,"minExtent":0,"maxExtent":0,"gridWidth":{"condition":{"test":"datum.value % 10 === 0","value":2},"value":1.1}}},
"y":{"field":"nsd","type":"quantitative","scale":{"domain":[-5.5,114],"nice":false,"zero":false},"axis":{"values":[0,15,30,45,60,75,90,105],"labels":false,"ticks":false,"title":null,"minExtent":0,"maxExtent":0,"gridWidth":{"condition":{"test":"datum.value % 30 === 0","value":2},"value":1.1}}}},
"layer":[{"mark":{"type":"line","color":"#000000","strokeWidth":1.2}},{"mark":{"type":"point","filled":true,"color":"#000000","size":45,"opacity":1}}]}
]},
{"spacing":0,"bounds":"flush","vconcat":[
{"width":194,"height":44,"view":{"fill":"#d9d9d9","stroke":"#333333","strokeWidth":1.5},"data":{"values":[{"id":"RAH24"}]},"mark":{"type":"text","fontSize":23.5,"color":"#1a1a1a"},"encoding":{"text":{"field":"id"}}},
{"width":194,"height":109,"view":{"fill":"#ffffff","stroke":"#333333","strokeWidth":1.5},"data":{"name":"RAH24"},
"encoding":{"x":{"field":"day","type":"quantitative","scale":{"domain":[-2,42.9],"nice":false,"zero":false},"axis":{"values":[0,5,10,15,20,25,30,35,40],"labels":false,"ticks":false,"title":null,"minExtent":0,"maxExtent":0,"gridWidth":{"condition":{"test":"datum.value % 10 === 0","value":2},"value":1.1}}},
"y":{"field":"nsd","type":"quantitative","scale":{"domain":[-5.5,114],"nice":false,"zero":false},"axis":{"values":[0,15,30,45,60,75,90,105],"labels":false,"ticks":false,"title":null,"minExtent":0,"maxExtent":0,"gridWidth":{"condition":{"test":"datum.value % 30 === 0","value":2},"value":1.1}}}},
"layer":[{"mark":{"type":"line","color":"#000000","strokeWidth":1.2}},{"mark":{"type":"point","filled":true,"color":"#000000","size":45,"opacity":1}}]}
]},
{"spacing":0,"bounds":"flush","vconcat":[
{"width":194,"height":44,"view":{"fill":"#d9d9d9","stroke":"#333333","strokeWidth":1.5},"data":{"values":[{"id":"RAP25"}]},"mark":{"type":"text","fontSize":23.5,"color":"#1a1a1a"},"encoding":{"text":{"field":"id"}}},
{"width":194,"height":109,"view":{"fill":"#ffffff","stroke":"#333333","strokeWidth":1.5},"data":{"name":"RAP25"},
"encoding":{"y":{"field":"nsd","type":"quantitative","scale":{"domain":[-5.5,114],"nice":false,"zero":false},"axis":{"values":[0,15,30,45,60,75,90,105],"labels":false,"ticks":false,"title":null,"minExtent":0,"maxExtent":0,"gridWidth":{"condition":{"test":"datum.value % 30 === 0","value":2},"value":1.1}}}},
"resolve":{"axis":{"x":"independent"}},
"layer":[{"mark":{"type":"line","color":"#000000","strokeWidth":1.2},"encoding":{"x":{"field":"day","type":"quantitative","scale":{"domain":[-2,42.9],"nice":false,"zero":false},"axis":{"values":[0,10,20,30,40],"title":null,"gridWidth":2}}}},{"mark":{"type":"point","filled":true,"color":"#000000","size":45,"opacity":1},"encoding":{"x":{"field":"day","type":"quantitative","axis":{"values":[5,15,25,35],"orient":"top","labels":false,"ticks":false,"title":null,"minExtent":0,"maxExtent":0,"gridWidth":1.1}}}}]}
]}
]},
{"spacing":12.5,"vconcat":[
{"spacing":0,"bounds":"flush","vconcat":[
{"width":194,"height":44,"view":{"fill":"#d9d9d9","stroke":"#333333","strokeWidth":1.5},"data":{"values":[{"id":"HAR12"}]},"mark":{"type":"text","fontSize":23.5,"color":"#1a1a1a"},"encoding":{"text":{"field":"id"}}},
{"width":194,"height":109,"view":{"fill":"#ffffff","stroke":"#333333","strokeWidth":1.5},"data":{"name":"HAR12"},
"encoding":{"x":{"field":"day","type":"quantitative","scale":{"domain":[-2,42.9],"nice":false,"zero":false},"axis":{"values":[0,5,10,15,20,25,30,35,40],"labels":false,"ticks":false,"title":null,"minExtent":0,"maxExtent":0,"gridWidth":{"condition":{"test":"datum.value % 10 === 0","value":2},"value":1.1}}},
"y":{"field":"nsd","type":"quantitative","scale":{"domain":[-5.5,114],"nice":false,"zero":false},"axis":{"values":[0,15,30,45,60,75,90,105],"labels":false,"ticks":false,"title":null,"minExtent":0,"maxExtent":0,"gridWidth":{"condition":{"test":"datum.value % 30 === 0","value":2},"value":1.1}}}},
"layer":[{"mark":{"type":"line","color":"#000000","strokeWidth":1.2}},{"mark":{"type":"point","filled":true,"color":"#000000","size":45,"opacity":1}}]}
]},
{"spacing":0,"bounds":"flush","vconcat":[
{"width":194,"height":44,"view":{"fill":"#d9d9d9","stroke":"#333333","strokeWidth":1.5},"data":{"values":[{"id":"PAR20"}]},"mark":{"type":"text","fontSize":23.5,"color":"#1a1a1a"},"encoding":{"text":{"field":"id"}}},
{"width":194,"height":109,"view":{"fill":"#ffffff","stroke":"#333333","strokeWidth":1.5},"data":{"name":"PAR20"},
"encoding":{"x":{"field":"day","type":"quantitative","scale":{"domain":[-2,42.9],"nice":false,"zero":false},"axis":{"values":[0,5,10,15,20,25,30,35,40],"labels":false,"ticks":false,"title":null,"minExtent":0,"maxExtent":0,"gridWidth":{"condition":{"test":"datum.value % 10 === 0","value":2},"value":1.1}}},
"y":{"field":"nsd","type":"quantitative","scale":{"domain":[-5.5,114],"nice":false,"zero":false},"axis":{"values":[0,15,30,45,60,75,90,105],"labels":false,"ticks":false,"title":null,"minExtent":0,"maxExtent":0,"gridWidth":{"condition":{"test":"datum.value % 30 === 0","value":2},"value":1.1}}}},
"layer":[{"mark":{"type":"line","color":"#000000","strokeWidth":1.2}},{"mark":{"type":"point","filled":true,"color":"#000000","size":45,"opacity":1}}]}
]},
{"spacing":0,"bounds":"flush","vconcat":[
{"width":194,"height":44,"view":{"fill":"#d9d9d9","stroke":"#333333","strokeWidth":1.5},"data":{"values":[{"id":"RAP03"}]},"mark":{"type":"text","fontSize":23.5,"color":"#1a1a1a"},"encoding":{"text":{"field":"id"}}},
{"width":194,"height":109,"view":{"fill":"#ffffff","stroke":"#333333","strokeWidth":1.5},"data":{"name":"RAP03"},
"encoding":{"x":{"field":"day","type":"quantitative","scale":{"domain":[-2,42.9],"nice":false,"zero":false},"axis":{"values":[0,5,10,15,20,25,30,35,40],"labels":false,"ticks":false,"title":null,"minExtent":0,"maxExtent":0,"gridWidth":{"condition":{"test":"datum.value % 10 === 0","value":2},"value":1.1}}},
"y":{"field":"nsd","type":"quantitative","scale":{"domain":[-5.5,114],"nice":false,"zero":false},"axis":{"values":[0,15,30,45,60,75,90,105],"labels":false,"ticks":false,"title":null,"minExtent":0,"maxExtent":0,"gridWidth":{"condition":{"test":"datum.value % 30 === 0","value":2},"value":1.1}}}},
"layer":[{"mark":{"type":"line","color":"#000000","strokeWidth":1.2}},{"mark":{"type":"point","filled":true,"color":"#000000","size":45,"opacity":1}}]}
]},
{"spacing":0,"bounds":"flush","vconcat":[
{"width":194,"height":44,"view":{"fill":"#d9d9d9","stroke":"#333333","strokeWidth":1.5},"data":{"values":[{"id":"RAP27"}]},"mark":{"type":"text","fontSize":23.5,"color":"#1a1a1a"},"encoding":{"text":{"field":"id"}}},
{"width":194,"height":109,"view":{"fill":"#ffffff","stroke":"#333333","strokeWidth":1.5},"data":{"name":"RAP27"},
"encoding":{"y":{"field":"nsd","type":"quantitative","scale":{"domain":[-5.5,114],"nice":false,"zero":false},"axis":{"values":[0,15,30,45,60,75,90,105],"labels":false,"ticks":false,"title":null,"minExtent":0,"maxExtent":0,"gridWidth":{"condition":{"test":"datum.value % 30 === 0","value":2},"value":1.1}}}},
"resolve":{"axis":{"x":"independent"}},
"layer":[{"mark":{"type":"line","color":"#000000","strokeWidth":1.2},"encoding":{"x":{"field":"day","type":"quantitative","scale":{"domain":[-2,42.9],"nice":false,"zero":false},"axis":{"values":[0,10,20,30,40],"title":"Day","titlePadding":3,"gridWidth":2}}}},{"mark":{"type":"point","filled":true,"color":"#000000","size":45,"opacity":1},"encoding":{"x":{"field":"day","type":"quantitative","axis":{"values":[5,15,25,35],"orient":"top","labels":false,"ticks":false,"title":null,"minExtent":0,"maxExtent":0,"gridWidth":1.1}}}}]}
]}
]},
{"spacing":12.5,"vconcat":[
{"spacing":0,"bounds":"flush","vconcat":[
{"width":194,"height":44,"view":{"fill":"#d9d9d9","stroke":"#333333","strokeWidth":1.5},"data":{"values":[{"id":"HAR17"}]},"mark":{"type":"text","fontSize":23.5,"color":"#1a1a1a"},"encoding":{"text":{"field":"id"}}},
{"width":194,"height":109,"view":{"fill":"#ffffff","stroke":"#333333","strokeWidth":1.5},"data":{"name":"HAR17"},
"encoding":{"x":{"field":"day","type":"quantitative","scale":{"domain":[-2,42.9],"nice":false,"zero":false},"axis":{"values":[0,5,10,15,20,25,30,35,40],"labels":false,"ticks":false,"title":null,"minExtent":0,"maxExtent":0,"gridWidth":{"condition":{"test":"datum.value % 10 === 0","value":2},"value":1.1}}},
"y":{"field":"nsd","type":"quantitative","scale":{"domain":[-5.5,114],"nice":false,"zero":false},"axis":{"values":[0,15,30,45,60,75,90,105],"labels":false,"ticks":false,"title":null,"minExtent":0,"maxExtent":0,"gridWidth":{"condition":{"test":"datum.value % 30 === 0","value":2},"value":1.1}}}},
"layer":[{"mark":{"type":"line","color":"#000000","strokeWidth":1.2}},{"mark":{"type":"point","filled":true,"color":"#000000","size":45,"opacity":1}}]}
]},
{"spacing":0,"bounds":"flush","vconcat":[
{"width":194,"height":44,"view":{"fill":"#d9d9d9","stroke":"#333333","strokeWidth":1.5},"data":{"values":[{"id":"RAH06"}]},"mark":{"type":"text","fontSize":23.5,"color":"#1a1a1a"},"encoding":{"text":{"field":"id"}}},
{"width":194,"height":109,"view":{"fill":"#ffffff","stroke":"#333333","strokeWidth":1.5},"data":{"name":"RAH06"},
"encoding":{"x":{"field":"day","type":"quantitative","scale":{"domain":[-2,42.9],"nice":false,"zero":false},"axis":{"values":[0,5,10,15,20,25,30,35,40],"labels":false,"ticks":false,"title":null,"minExtent":0,"maxExtent":0,"gridWidth":{"condition":{"test":"datum.value % 10 === 0","value":2},"value":1.1}}},
"y":{"field":"nsd","type":"quantitative","scale":{"domain":[-5.5,114],"nice":false,"zero":false},"axis":{"values":[0,15,30,45,60,75,90,105],"labels":false,"ticks":false,"title":null,"minExtent":0,"maxExtent":0,"gridWidth":{"condition":{"test":"datum.value % 30 === 0","value":2},"value":1.1}}}},
"layer":[{"mark":{"type":"line","color":"#000000","strokeWidth":1.2}},{"mark":{"type":"point","filled":true,"color":"#000000","size":45,"opacity":1}}]}
]},
{"spacing":0,"bounds":"flush","vconcat":[
{"width":194,"height":44,"view":{"fill":"#d9d9d9","stroke":"#333333","strokeWidth":1.5},"data":{"values":[{"id":"RAP06"}]},"mark":{"type":"text","fontSize":23.5,"color":"#1a1a1a"},"encoding":{"text":{"field":"id"}}},
{"width":194,"height":109,"view":{"fill":"#ffffff","stroke":"#333333","strokeWidth":1.5},"data":{"name":"RAP06"},
"encoding":{"y":{"field":"nsd","type":"quantitative","scale":{"domain":[-5.5,114],"nice":false,"zero":false},"axis":{"values":[0,15,30,45,60,75,90,105],"labels":false,"ticks":false,"title":null,"minExtent":0,"maxExtent":0,"gridWidth":{"condition":{"test":"datum.value % 30 === 0","value":2},"value":1.1}}}},
"resolve":{"axis":{"x":"independent"}},
"layer":[{"mark":{"type":"line","color":"#000000","strokeWidth":1.2},"encoding":{"x":{"field":"day","type":"quantitative","scale":{"domain":[-2,42.9],"nice":false,"zero":false},"axis":{"values":[0,10,20,30,40],"title":null,"gridWidth":2}}}},{"mark":{"type":"point","filled":true,"color":"#000000","size":45,"opacity":1},"encoding":{"x":{"field":"day","type":"quantitative","axis":{"values":[5,15,25,35],"orient":"top","labels":false,"ticks":false,"title":null,"minExtent":0,"maxExtent":0,"gridWidth":1.1}}}}]}
]}
]},
{"spacing":12.5,"vconcat":[
{"spacing":0,"bounds":"flush","vconcat":[
{"width":194,"height":44,"view":{"fill":"#d9d9d9","stroke":"#333333","strokeWidth":1.5},"data":{"values":[{"id":"PAR09"}]},"mark":{"type":"text","fontSize":23.5,"color":"#1a1a1a"},"encoding":{"text":{"field":"id"}}},
{"width":194,"height":109,"view":{"fill":"#ffffff","stroke":"#333333","strokeWidth":1.5},"data":{"name":"PAR09"},
"encoding":{"x":{"field":"day","type":"quantitative","scale":{"domain":[-2,42.9],"nice":false,"zero":false},"axis":{"values":[0,5,10,15,20,25,30,35,40],"labels":false,"ticks":false,"title":null,"minExtent":0,"maxExtent":0,"gridWidth":{"condition":{"test":"datum.value % 10 === 0","value":2},"value":1.1}}},
"y":{"field":"nsd","type":"quantitative","scale":{"domain":[-5.5,114],"nice":false,"zero":false},"axis":{"values":[0,15,30,45,60,75,90,105],"labels":false,"ticks":false,"title":null,"minExtent":0,"maxExtent":0,"gridWidth":{"condition":{"test":"datum.value % 30 === 0","value":2},"value":1.1}}}},
"layer":[{"mark":{"type":"line","color":"#000000","strokeWidth":1.2}},{"mark":{"type":"point","filled":true,"color":"#000000","size":45,"opacity":1}}]}
]},
{"spacing":0,"bounds":"flush","vconcat":[
{"width":194,"height":44,"view":{"fill":"#d9d9d9","stroke":"#333333","strokeWidth":1.5},"data":{"values":[{"id":"RAH08"}]},"mark":{"type":"text","fontSize":23.5,"color":"#1a1a1a"},"encoding":{"text":{"field":"id"}}},
{"width":194,"height":109,"view":{"fill":"#ffffff","stroke":"#333333","strokeWidth":1.5},"data":{"name":"RAH08"},
"encoding":{"x":{"field":"day","type":"quantitative","scale":{"domain":[-2,42.9],"nice":false,"zero":false},"axis":{"values":[0,5,10,15,20,25,30,35,40],"labels":false,"ticks":false,"title":null,"minExtent":0,"maxExtent":0,"gridWidth":{"condition":{"test":"datum.value % 10 === 0","value":2},"value":1.1}}},
"y":{"field":"nsd","type":"quantitative","scale":{"domain":[-5.5,114],"nice":false,"zero":false},"axis":{"values":[0,15,30,45,60,75,90,105],"labels":false,"ticks":false,"title":null,"minExtent":0,"maxExtent":0,"gridWidth":{"condition":{"test":"datum.value % 30 === 0","value":2},"value":1.1}}}},
"layer":[{"mark":{"type":"line","color":"#000000","strokeWidth":1.2}},{"mark":{"type":"point","filled":true,"color":"#000000","size":45,"opacity":1}}]}
]},
{"spacing":0,"bounds":"flush","vconcat":[
{"width":194,"height":44,"view":{"fill":"#d9d9d9","stroke":"#333333","strokeWidth":1.5},"data":{"values":[{"id":"RAP09"}]},"mark":{"type":"text","fontSize":23.5,"color":"#1a1a1a"},"encoding":{"text":{"field":"id"}}},
{"width":194,"height":109,"view":{"fill":"#ffffff","stroke":"#333333","strokeWidth":1.5},"data":{"name":"RAP09"},
"encoding":{"y":{"field":"nsd","type":"quantitative","scale":{"domain":[-5.5,114],"nice":false,"zero":false},"axis":{"values":[0,15,30,45,60,75,90,105],"labels":false,"ticks":false,"title":null,"minExtent":0,"maxExtent":0,"gridWidth":{"condition":{"test":"datum.value % 30 === 0","value":2},"value":1.1}}}},
"resolve":{"axis":{"x":"independent"}},
"layer":[{"mark":{"type":"line","color":"#000000","strokeWidth":1.2},"encoding":{"x":{"field":"day","type":"quantitative","scale":{"domain":[-2,42.9],"nice":false,"zero":false},"axis":{"values":[0,10,20,30,40],"title":null,"gridWidth":2}}}},{"mark":{"type":"point","filled":true,"color":"#000000","size":45,"opacity":1},"encoding":{"x":{"field":"day","type":"quantitative","axis":{"values":[5,15,25,35],"orient":"top","labels":false,"ticks":false,"title":null,"minExtent":0,"maxExtent":0,"gridWidth":1.1}}}}]}
]}
]}
]}
],
"config":{
"font":"Liberation Sans",
"axis":{"domain":false,"gridColor":"#ebebeb","tickColor":"#333333","tickWidth":1.8,"tickSize":7.5,"labelColor":"#4d4d4d","labelFont":"Liberation Sans","labelFontSize":22,"labelOverlap":false,"labelFlush":false,"titleFont":"Liberation Sans","titleFontSize":28,"titleFontWeight":"normal","titleColor":"#000000"},
"axisX":{"labelPadding":4},
"axisY":{"labelPadding":6},
"text":{"font":"Liberation Sans"}
}
}
